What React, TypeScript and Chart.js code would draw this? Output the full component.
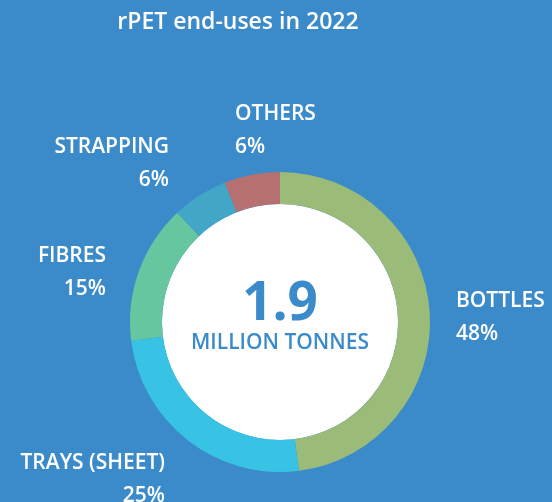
import React, { useEffect, useRef } from "react";
import { Chart, registerables } from "chart.js";

Chart.register(...registerables);

const categories = ["BOTTLES", "TRAYS (SHEET)", "FIBRES", "STRAPPING", "OTHERS"];
const shares = [48, 25, 15, 6, 6];
const colors = ["#9bbb78", "#38c3e5", "#66c6a0", "#42a6c7", "#b67070"];
const titleText = "rPET end-uses in 2022";
const centerValue = "1.9";
const centerUnit = "MILLION TONNES";

// label placement relative to doughnut centre: [dx, dy of first line, alignment]
const labelLayout: [number, number, CanvasTextAlign][] = [
  [176, -21, "left"],
  [-115, 141, "right"],
  [-174, -66, "right"],
  [-111, -175, "right"],
  [-45, -208, "left"],
];

const BG = "#3b8bca";
const FONT = "'Open Sans', 'Noto Sans', sans-serif";

export default function App() {
  const ref = useRef<HTMLCanvasElement>(null);
  useEffect(() => {
    document.body.style.margin = "0";
    const overlay = {
      id: "overlay",
      beforeDatasetsDraw(chart: any) {
        const arc = chart.getDatasetMeta(0).data[0];
        if (!arc) return;
        const ctx = chart.ctx;
        ctx.save();
        ctx.fillStyle = "#ffffff";
        ctx.beginPath();
        ctx.arc(arc.x, arc.y, arc.innerRadius, 0, Math.PI * 2);
        ctx.fill();
        ctx.restore();
      },
      afterDraw(chart: any) {
        const arc = chart.getDatasetMeta(0).data[0];
        if (!arc) return;
        const cx = arc.x;
        const cy = arc.y;
        const ctx = chart.ctx;
        ctx.save();
        ctx.textBaseline = "middle";
        // title
        ctx.fillStyle = "#ffffff";
        ctx.textAlign = "center";
        ctx.font = `600 23px ${FONT}`;
        ctx.fillText(titleText, cx - 42, 22);
        // centre text
        ctx.fillStyle = BG;
        ctx.font = `700 53px ${FONT}`;
        ctx.fillText(centerValue, cx, cy - 17);
        ctx.font = `600 21px ${FONT}`;
        ctx.fillText(centerUnit, cx, cy + 21);
        // labels
        ctx.fillStyle = "#ffffff";
        ctx.font = `600 21px ${FONT}`;
        categories.forEach((c, i) => {
          const [dx, dy, align] = labelLayout[i];
          ctx.textAlign = align;
          ctx.fillText(c, cx + dx, cy + dy);
          ctx.fillText(`${shares[i]}%`, cx + dx, cy + dy + 33);
        });
        ctx.restore();
      },
    };
    const chart = new Chart(ref.current!, {
      type: "doughnut",
      data: {
        labels: categories,
        datasets: [
          {
            data: shares,
            backgroundColor: colors,
            borderWidth: 0,
          },
        ],
      },
      options: {
        responsive: false,
        animation: false,
        cutout: "78.7%",
        layout: { padding: { left: 130, right: 122, top: 172, bottom: 30 } },
        plugins: {
          legend: { display: false },
          tooltip: { enabled: false },
          title: { display: false },
        },
      },
      plugins: [overlay],
    });
    return () => chart.destroy();
  }, []);
  return (
    <div style={{ width: 552, height: 502, background: BG, position: "relative" }}>
      <canvas ref={ref} width={552} height={502} style={{ display: "block" }} />
    </div>
  );
}
